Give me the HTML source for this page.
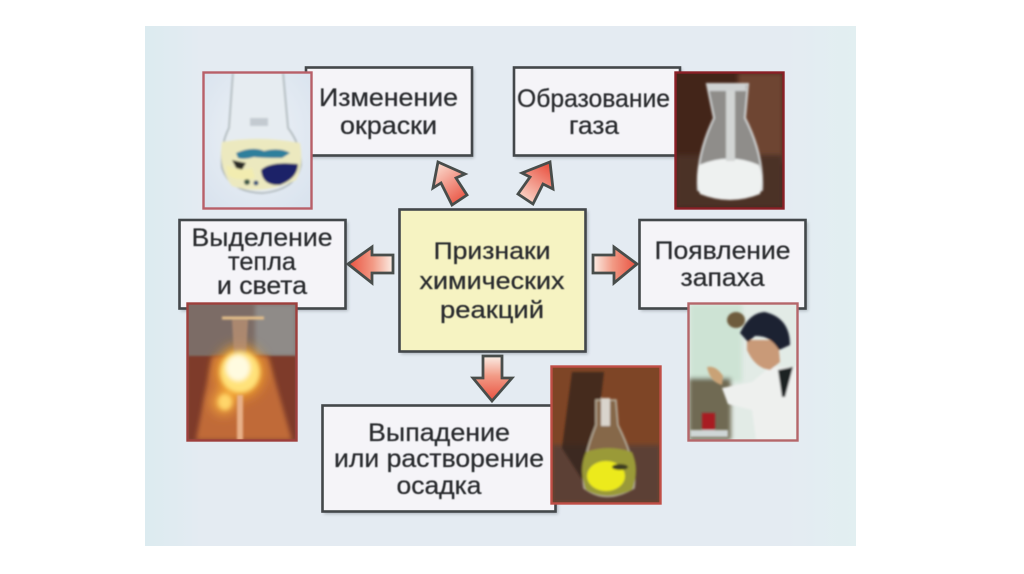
<!DOCTYPE html>
<html lang="ru">
<head>
<meta charset="utf-8">
<title>Признаки химических реакций</title>
<style>
html,body{margin:0;padding:0;background:#fff;width:1024px;height:574px;overflow:hidden}
svg{display:block}
text{font-family:"Liberation Sans",sans-serif;fill:#292c2e;stroke:#292c2e;stroke-width:.25;text-anchor:middle}
</style>
</head>
<body>
<svg width="1024" height="574" viewBox="0 0 1024 574" xmlns="http://www.w3.org/2000/svg">
<defs>
<linearGradient id="panel" x1="0" x2="1" y1="0" y2="0">
<stop offset="0" stop-color="#dcebf0"/><stop offset=".08" stop-color="#e4ebf2"/><stop offset=".9" stop-color="#e4ebf2"/><stop offset="1" stop-color="#e2eff1"/>
</linearGradient>
<linearGradient id="al" x1="0" x2="1" y1="0" y2="0"><stop offset="0" stop-color="#e9503f"/><stop offset=".55" stop-color="#f29a85"/><stop offset="1" stop-color="#fbeee6"/></linearGradient>
<linearGradient id="ar" x1="1" x2="0" y1="0" y2="0"><stop offset="0" stop-color="#e9503f"/><stop offset=".55" stop-color="#f29a85"/><stop offset="1" stop-color="#fbeee6"/></linearGradient>
<linearGradient id="ad" x1="0" x2="0" y1="1" y2="0"><stop offset="0" stop-color="#e9503f"/><stop offset=".55" stop-color="#f29a85"/><stop offset="1" stop-color="#fbeee6"/></linearGradient>
<linearGradient id="aul" x1="0.8" x2="0.2" y1="1" y2="0"><stop offset="0" stop-color="#e9503f"/><stop offset="1" stop-color="#fbdccf"/></linearGradient>
<linearGradient id="aur" x1="0.2" x2="0.8" y1="1" y2="0"><stop offset="0" stop-color="#fbdccf"/><stop offset="1" stop-color="#e9503f"/></linearGradient>
<radialGradient id="p1bg" cx=".5" cy=".45" r=".7"><stop offset="0" stop-color="#eef2f7"/><stop offset="1" stop-color="#d9e3ee"/></radialGradient>
<filter id="s" x="-10%" y="-10%" width="120%" height="120%"><feGaussianBlur stdDeviation="1.6"/></filter>
<filter id="b" x="-20%" y="-20%" width="140%" height="140%"><feGaussianBlur stdDeviation="1"/></filter>
<filter id="b2" x="-30%" y="-30%" width="160%" height="160%"><feGaussianBlur stdDeviation="2.5"/></filter>
<filter id="b3" x="-40%" y="-40%" width="180%" height="180%"><feGaussianBlur stdDeviation="6"/></filter>
<filter id="t" x="-5%" y="-20%" width="110%" height="140%"><feGaussianBlur stdDeviation="0.4"/></filter>
<clipPath id="c1"><rect x="204" y="73" width="107" height="135"/></clipPath>
<clipPath id="c2"><rect x="676" y="73" width="107" height="135"/></clipPath>
<clipPath id="c3"><rect x="188" y="304" width="108" height="136"/></clipPath>
<clipPath id="c4"><rect x="689" y="304" width="108" height="136"/></clipPath>
<clipPath id="c5"><rect x="552" y="367" width="108" height="136"/></clipPath>
</defs>

<rect x="145" y="26" width="711" height="520" fill="url(#panel)"/>

<!-- shadows -->
<g fill="#7f8890" opacity=".55" filter="url(#s)">
<rect x="307" y="69" width="167" height="89"/>
<rect x="515" y="69" width="167" height="89"/>
<rect x="181" y="222" width="167" height="89"/>
<rect x="641" y="222" width="167" height="89"/>
<rect x="324" y="407" width="234" height="107"/>
<rect x="401" y="211" width="187" height="143"/>
</g>

<!-- boxes -->
<g fill="#f5f4f8" stroke="#43474a" stroke-width="2.600">
<rect x="306" y="67.500" width="166" height="88"/>
<rect x="514" y="67.500" width="166" height="88"/>
<rect x="179.500" y="220" width="166" height="88.500"/>
<rect x="639.500" y="220" width="166" height="88.500"/>
<rect x="322.500" y="405.500" width="233" height="106"/>
<rect x="399.500" y="209.500" width="186" height="142" fill="#f6f3c2"/>
</g>

<!-- arrows -->
<g stroke="#484d4b" stroke-width="2.800" stroke-linejoin="miter">
<polygon points="348,264 372,247 372,255 393,255 393,273 372,273 372,283" fill="url(#al)"/>
<polygon points="637,264 614,247 614,255 593,255 593,273 614,273 614,283" fill="url(#ar)"/>
<polygon points="492,401 473,378 483,378 483,356 502,356 502,378 512,378" fill="url(#ad)"/>
<polygon points="438,162 465,174 456,178 467,195 452,205 441,183 433,188" fill="url(#aul)"/>
<polygon points="550,162 553,189 543,184 533,204 518,194 530,177 522,173" fill="url(#aur)"/>
</g>

<!-- photo 1 -->
<g clip-path="url(#c1)">
<rect x="204" y="73" width="107" height="135" fill="url(#p1bg)"/>
<g filter="url(#b)">
<path d="M233 73 L229 128 Q220 146 222 168 Q230 192 262 193 Q296 190 301 165 Q301 145 288 128 L283 73" fill="#e6ecf1" stroke="#a3adb0" stroke-width="1.500"/>
<rect x="250" y="118" width="18" height="8" fill="#c3cad0"/>
<path d="M222 142 Q260 135 300 143 Q304 165 296 180 Q262 196 232 186 Q218 168 222 142Z" fill="#ece9bf"/>
<path d="M236 153 Q252 146 264 151 Q280 147 290 153 L282 158 Q262 158 254 157 Q244 160 238 158Z" fill="#2f7f9c"/>
<path d="M261 170 Q270 161 298 164 Q298 178 280 185 Q262 186 261 170Z" fill="#1e2468"/>
<path d="M232 160 L246 163 L242 170 L236 168Z" fill="#2c2c26"/>
<circle cx="247" cy="182" r="3" fill="#3e5a4a"/>
<circle cx="256" cy="183" r="2.500" fill="#35517a"/>
<path d="M226 165 Q240 172 252 168 L255 178 Q236 182 228 175Z" fill="#f2ecb0"/>
</g>
</g>
<rect x="203.500" y="72.500" width="108" height="136" fill="none" stroke="#b85f68" stroke-width="2.400"/>

<!-- photo 2 -->
<g clip-path="url(#c2)">
<rect x="676" y="73" width="107" height="135" fill="#432519"/>
<rect x="738" y="73" width="45" height="90" fill="#6e4431" filter="url(#b2)"/>
<rect x="676" y="155" width="107" height="53" fill="#4c3028" filter="url(#b2)"/>
<g filter="url(#b)">
<path d="M707 84 L748 84 L745 118 Q764 155 762 190 Q730 206 698 190 Q696 155 714 118Z" fill="#8f8d8a" stroke="#cfd2d2" stroke-width="2"/>
<path d="M699 165 Q730 152 759 165 Q764 180 760 194 Q730 206 700 194 Q695 180 699 165Z" fill="#eef1f0"/>
<rect x="726" y="86" width="9" height="75" fill="#d2d4d3"/>
<rect x="708" y="85" width="38" height="6" fill="#cfd2d2"/>
</g>
</g>
<rect x="675.500" y="72.500" width="108" height="136" fill="none" stroke="#8a1f26" stroke-width="2.400"/>

<!-- photo 3 -->
<g clip-path="url(#c3)">
<rect x="188" y="304" width="108" height="136" fill="#7c6c66"/>
<rect x="255" y="304" width="41" height="52" fill="#8f8b88" filter="url(#b2)"/>
<rect x="188" y="356" width="108" height="84" fill="#7e3b2b" filter="url(#b)"/>
<path d="M212 356 L268 356 L292 440 L196 440Z" fill="#c06a38" filter="url(#b2)"/>
<g filter="url(#b3)">
<ellipse cx="240" cy="372" rx="24" ry="26" fill="#f2a02c"/>
<ellipse cx="224" cy="402" rx="12" ry="12" fill="#f4a83a"/>
</g>
<g filter="url(#b)">
<path d="M222 318 L264 318" stroke="#e6c08a" stroke-width="3"/>
<path d="M232 320 L248 320 L246 356 L234 356Z" fill="#b88f72" opacity=".8"/>
<rect x="237" y="395" width="6" height="45" fill="#e8b088"/>
</g>
<g filter="url(#b2)">
<ellipse cx="240" cy="372" rx="20" ry="21" fill="#ffe27a"/>
<ellipse cx="238" cy="368" rx="12" ry="13" fill="#fffbe0"/>
<ellipse cx="225" cy="402" rx="7" ry="8" fill="#ffd66a"/>
</g>
</g>
<rect x="187.500" y="303.500" width="109" height="137" fill="none" stroke="#9e3f3c" stroke-width="2.400"/>

<!-- photo 4 -->
<g clip-path="url(#c4)">
<rect x="689" y="304" width="108" height="136" fill="#e2ebe6"/>
<g filter="url(#b2)">
<rect x="690" y="304" width="52" height="78" fill="#cde3d4"/>
<rect x="689" y="378" width="42" height="62" fill="#6f6a52"/>
</g>
<g filter="url(#b)">
<ellipse cx="736" cy="320" rx="9" ry="8" fill="#6e5c3c"/>
<path d="M770 367 L797 367 L797 440 L756 440 L752 410 L728 404 L722 388 L752 382Z" fill="#eef0ee"/>
<path d="M778 370 L793 367 L785 397 L782 397Z" fill="#1e2024"/>
<path d="M747 340 L778 340 L780 362 L770 370 Q755 368 747 350Z" fill="#c99a78"/>
<path d="M740 333 Q750 312 765 312 Q790 318 790 345 L779 350 Q770 335 755 336 L748 342Z" fill="#1c2030"/>
<path d="M707 367 Q716 365 723 376 L722 385 Q710 382 707 367Z" fill="#c9a276"/>
<rect x="702" y="413" width="13" height="17" fill="#a81c22"/>
<rect x="690" y="430" width="38" height="7" fill="#cfd6d6"/>
</g>
</g>
<rect x="688.500" y="303.500" width="109" height="137" fill="none" stroke="#b5666a" stroke-width="2.400"/>

<!-- photo 5 -->
<g clip-path="url(#c5)">
<rect x="552" y="367" width="108" height="136" fill="#7e4526"/>
<rect x="552" y="445" width="108" height="58" fill="#5c4034" filter="url(#b2)"/>
<g filter="url(#b)">
<path d="M572 372 L604 372 L590 492 L562 448Z" fill="#33241c" opacity=".75"/>
<path d="M596 400 L616 400 L618 425 Q638 465 634 488 Q606 505 584 488 Q580 465 596 425Z" fill="#86684a" stroke="#b9b2a0" stroke-width="1.500"/>
<rect x="601" y="398" width="9" height="28" fill="#d9d4cc"/>
<path d="M586 452 Q608 444 632 452 Q640 470 632 490 Q606 502 586 490 Q578 470 586 452Z" fill="#9a9a38"/>
<ellipse cx="606" cy="476" rx="19" ry="15" fill="#ecea1e"/>
<ellipse cx="620" cy="467" rx="8" ry="3" fill="#3e3c22"/>
</g>
</g>
<rect x="551.500" y="366.500" width="109" height="137" fill="none" stroke="#c04e46" stroke-width="2.400"/>

<!-- text -->
<g filter="url(#t)" font-size="25">
<text x="388.500" y="106" textLength="139" lengthAdjust="spacingAndGlyphs">Изменение</text>
<text x="388.500" y="134" textLength="97" lengthAdjust="spacingAndGlyphs">окраски</text>
<text x="593.500" y="107" textLength="153" lengthAdjust="spacingAndGlyphs">Образование</text>
<text x="594" y="134" textLength="50" lengthAdjust="spacingAndGlyphs">газа</text>
<text x="262" y="246" textLength="141" lengthAdjust="spacingAndGlyphs">Выделение</text>
<text x="262" y="270" textLength="68" lengthAdjust="spacingAndGlyphs">тепла</text>
<text x="262" y="294" textLength="90" lengthAdjust="spacingAndGlyphs">и света</text>
<text x="722.500" y="259" textLength="136" lengthAdjust="spacingAndGlyphs">Появление</text>
<text x="722.500" y="286" textLength="84" lengthAdjust="spacingAndGlyphs">запаха</text>
<text x="439" y="441" textLength="142" lengthAdjust="spacingAndGlyphs">Выпадение</text>
<text x="439" y="467" textLength="210" lengthAdjust="spacingAndGlyphs">или растворение</text>
<text x="439" y="494" textLength="85" lengthAdjust="spacingAndGlyphs">осадка</text>
<text x="492" y="259" font-size="24" textLength="117" lengthAdjust="spacingAndGlyphs">Признаки</text>
<text x="492" y="289" font-size="24" textLength="145" lengthAdjust="spacingAndGlyphs">химических</text>
<text x="492" y="318" font-size="24" textLength="104" lengthAdjust="spacingAndGlyphs">реакций</text>
</g>
</svg>
</body>
</html>
